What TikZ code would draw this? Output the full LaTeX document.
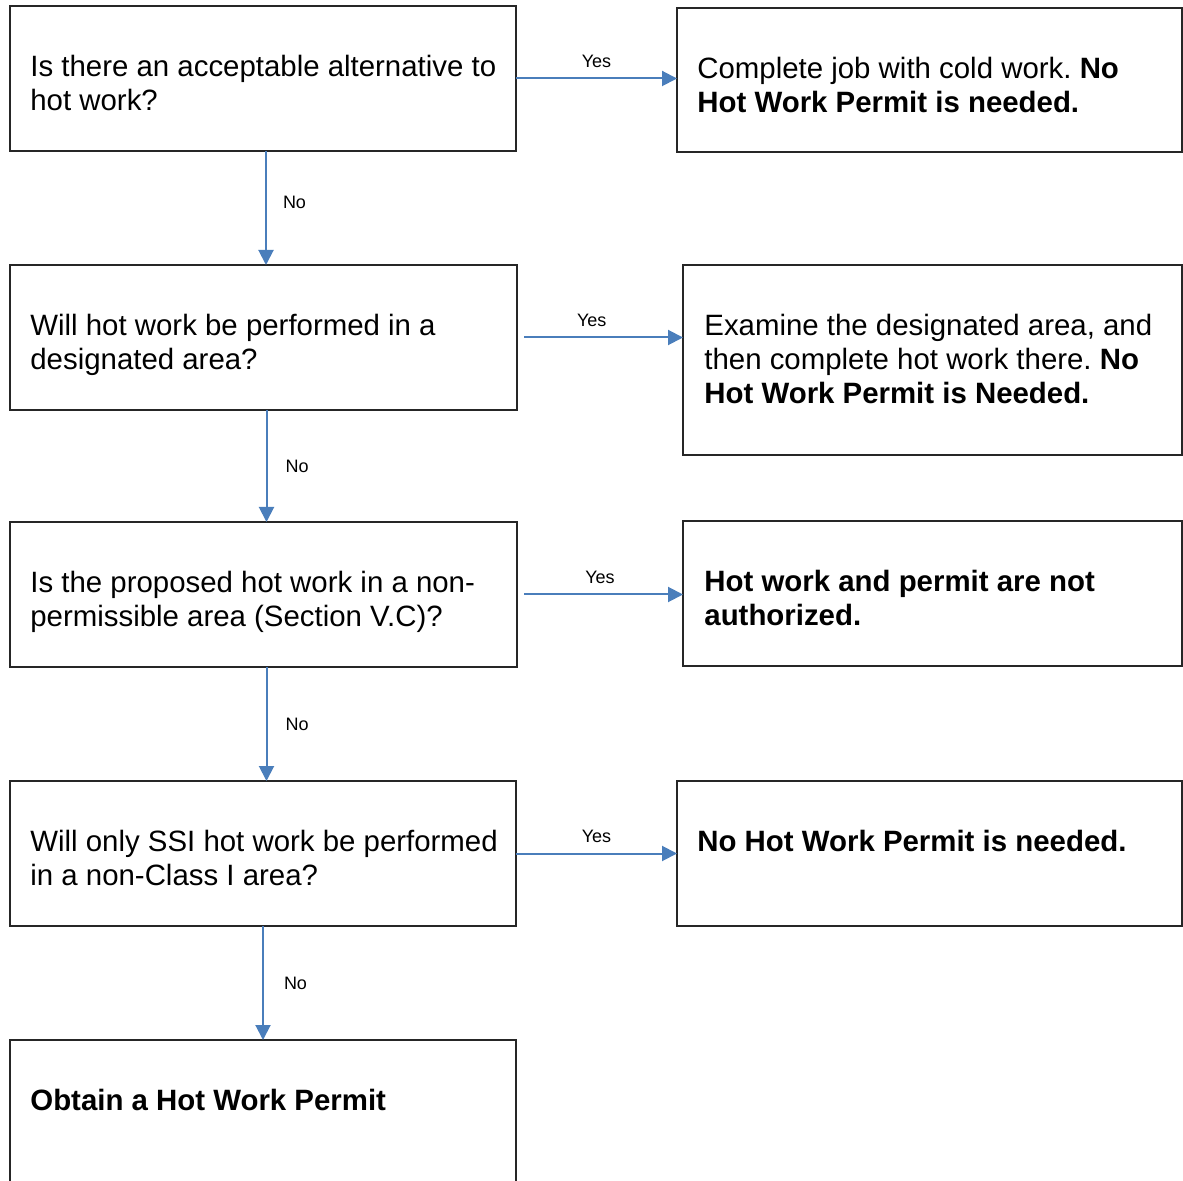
\documentclass[tikz,border=0pt]{standalone}
\usepackage{fontspec}
\setmainfont{Liberation Sans}
\usetikzlibrary{arrows.meta}
\frenchspacing

\definecolor{flowblue}{RGB}{74,126,187}

\tikzset{
  box/.style={draw=black!85, line width=0.75pt, inner sep=0pt, outer sep=0pt, anchor=north west},
  txt/.style={anchor=north west, align=left, inner sep=0pt, font=\fontsize{14.7}{17}\selectfont},
  flow/.style={draw=flowblue, line width=1pt, -{Triangle[length=7.5pt,width=7.5pt]}},
  lbl/.style={font=\fontsize{9}{10}\selectfont, inner sep=1pt}
}

\begin{document}
\begin{tikzpicture}[x=0.5pt, y=-0.5pt]
\clip (0,0) rectangle (1183,1181);
% question boxes
\node[box, minimum width=253pt, minimum height=72.5pt] (q1) at (10,6) {};
\node[box, minimum width=253.5pt, minimum height=72.5pt] (q2) at (10,265) {};
\node[box, minimum width=253.5pt, minimum height=72.5pt] (q3) at (10,522) {};
\node[box, minimum width=253pt, minimum height=72.5pt] (q4) at (10,781) {};
\node[box, minimum width=253pt, minimum height=85pt] (q5) at (10,1040) {};
% answer boxes
\node[box, minimum width=252.5pt, minimum height=72pt] (a1) at (677,8) {};
\node[box, minimum width=249.5pt, minimum height=95pt] (a2) at (683,265) {};
\node[box, minimum width=249.5pt, minimum height=72.5pt] (a3) at (683,521) {};
\node[box, minimum width=252.5pt, minimum height=72.5pt] (a4) at (677,781) {};

% texts (first baseline 35pt below the box top)
\node[txt] (tq1) at ([shift={(10pt,-23.1pt)}]q1.north west) {\strut Is there an acceptable alternative to\\hot work?};
\node[txt] (tq2) at ([shift={(10pt,-23.1pt)}]q2.north west) {\strut Will hot work be performed in a\\designated area?};
\node[txt] (tq3) at ([shift={(10pt,-23.1pt)}]q3.north west) {\strut Is the proposed hot work in a non-\\permissible area (Section V.C)?};
\node[txt] (tq4) at ([shift={(10pt,-23.1pt)}]q4.north west) {\strut Will only SSI hot work be performed\\in a non-Class I area?};
\node[txt] (tq5) at ([shift={(10pt,-23.1pt)}]q5.north west) {\strut\textbf{Obtain a Hot Work Permit}};
\node[txt] (ta1) at ([shift={(10pt,-23.1pt)}]a1.north west) {\strut Complete job with cold work. \textbf{No}\\\textbf{Hot Work Permit is needed.}};
\node[txt] (ta2) at ([shift={(10.5pt,-23.1pt)}]a2.north west) {\strut Examine the designated area, and\\then complete hot work there. \textbf{No}\\\textbf{Hot Work Permit is Needed.}};
\node[txt] (ta3) at ([shift={(10.5pt,-23.1pt)}]a3.north west) {\strut\textbf{Hot work and permit are not}\\\textbf{authorized.}};
\node[txt] (ta4) at ([shift={(10pt,-23.1pt)}]a4.north west) {\strut\textbf{No Hot Work Permit is needed.}};

% yes arrows
\draw[flow] (q1.east) -- (q1.east -| a1.west) node[lbl, midway, above=4pt] (y1) {Yes};
\draw[flow, shorten <=3.5pt] (q2.east) -- (q2.east -| a2.west) node[lbl, pos=0.45, above=4pt] (y2) {Yes};
\draw[flow, shorten <=3.5pt] (q3.east) -- (q3.east -| a3.west) node[lbl, midway, above=4pt] (y3) {Yes};
\draw[flow] (q4.east) -- (q4.east -| a4.west) node[lbl, midway, above=4pt] (y4) {Yes};

% no arrows
\draw[flow] ([xshift=1.5pt]q1.south) -- ([xshift=1.5pt]q1.south |- q2.north) node[lbl, pos=0.45, right=7pt] (n1) {No};
\draw[flow] ([xshift=1.5pt]q2.south) -- ([xshift=1.5pt]q2.south |- q3.north) node[lbl, midway, right=8pt] (n2) {No};
\draw[flow] ([xshift=1.5pt]q3.south) -- ([xshift=1.5pt]q3.south |- q4.north) node[lbl, midway, right=8pt] (n3) {No};
\draw[flow] (q4.south) -- (q4.south |- q5.north) node[lbl, midway, right=9pt] (n4) {No};
\end{tikzpicture}
\end{document}
